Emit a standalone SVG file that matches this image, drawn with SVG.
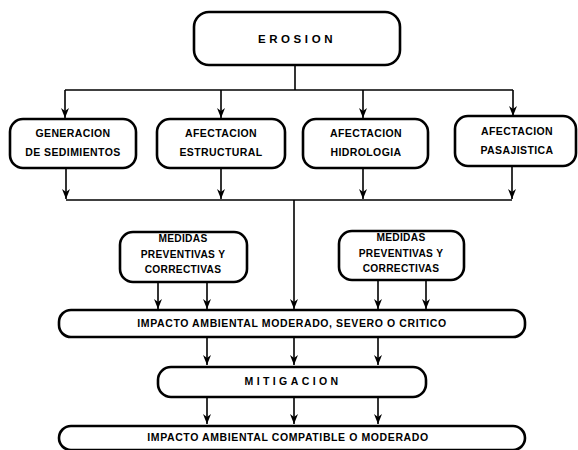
<svg xmlns="http://www.w3.org/2000/svg" width="578" height="450" viewBox="0 0 578 450">
<defs>
<marker id="ah" viewBox="0 0 10 8" refX="10" refY="4" markerWidth="10" markerHeight="8" markerUnits="userSpaceOnUse" orient="auto">
<path d="M0,0 L10,4 L0,8 L3,4 Z" fill="#000"/>
</marker>
<style>
.box{fill:#fff;stroke:#000;stroke-width:2.6}
.ln{fill:none;stroke:#000;stroke-width:1.6}
.ar{fill:none;stroke:#000;stroke-width:1.6;marker-end:url(#ah)}
text{font-family:"Liberation Sans","DejaVu Sans",sans-serif;font-weight:bold;fill:#000;text-anchor:middle;dominant-baseline:central}
.t{font-size:10.5px;letter-spacing:0.4px}
.m{font-size:10.2px;letter-spacing:0.3px}
.s{font-size:10.5px;letter-spacing:0.6px}
</style>
</defs>
<rect width="578" height="450" fill="#fff"/>
<g id="connectors">
<line class="ln" x1="295" y1="65" x2="295" y2="90"/>
<line class="ln" x1="65" y1="90" x2="513" y2="90"/>
<line class="ar" x1="65" y1="90" x2="65" y2="118"/>
<line class="ar" x1="221" y1="90" x2="221" y2="118"/>
<line class="ar" x1="363" y1="90" x2="363" y2="118"/>
<line class="ar" x1="513" y1="90" x2="513" y2="116"/>
<line class="ar" x1="66" y1="168" x2="66" y2="199"/>
<line class="ar" x1="221" y1="168" x2="221" y2="199"/>
<line class="ar" x1="363" y1="168" x2="363" y2="199"/>
<line class="ar" x1="512" y1="166" x2="512" y2="199"/>
<line class="ln" x1="66" y1="200" x2="512" y2="200"/>
<line class="ar" x1="294" y1="200" x2="294" y2="309"/>
<line class="ar" x1="158" y1="282" x2="158" y2="309"/>
<line class="ar" x1="207" y1="282" x2="207" y2="309"/>
<line class="ar" x1="378" y1="280" x2="378" y2="309"/>
<line class="ar" x1="426" y1="280" x2="426" y2="309"/>
<line class="ar" x1="207" y1="337" x2="207" y2="365"/>
<line class="ar" x1="294" y1="337" x2="294" y2="365"/>
<line class="ar" x1="378" y1="337" x2="378" y2="365"/>
<line class="ar" x1="207" y1="397" x2="207" y2="424"/>
<line class="ar" x1="294" y1="397" x2="294" y2="424"/>
<line class="ar" x1="378" y1="397" x2="378" y2="424"/>
</g>
<g id="erosion">
<rect class="box" x="194" y="12" width="206" height="53" rx="15"/>
<text x="297" y="39" style="font-size:11.5px;letter-spacing:3.6px">EROSION</text>
</g>
<g id="generacion">
<rect class="box" x="10" y="119" width="126" height="49" rx="13"/>
<text class="t" x="73" y="133">GENERACION</text>
<text class="t" x="73" y="152">DE SEDIMIENTOS</text>
</g>
<g id="estructural">
<rect class="box" x="157" y="119" width="128" height="49" rx="13"/>
<text class="t" x="221" y="133">AFECTACION</text>
<text class="t" x="221" y="152">ESTRUCTURAL</text>
</g>
<g id="hidrologia">
<rect class="box" x="303" y="119" width="125" height="49" rx="13"/>
<text class="t" x="366" y="133">AFECTACION</text>
<text class="t" x="366" y="152">HIDROLOGIA</text>
</g>
<g id="pasajistica">
<rect class="box" x="455" y="116" width="121" height="50" rx="13"/>
<text class="t" x="517" y="131">AFECTACION</text>
<text class="t" x="517" y="150">PASAJISTICA</text>
</g>
<g id="medidas1">
<rect class="box" x="120" y="232" width="127" height="50" rx="13"/>
<text class="m" x="183" y="238">MEDIDAS</text>
<text class="m" x="183" y="254">PREVENTIVAS Y</text>
<text class="m" x="183" y="269">CORRECTIVAS</text>
</g>
<g id="medidas2">
<rect class="box" x="339" y="231" width="125" height="49" rx="13"/>
<text class="m" x="401" y="237">MEDIDAS</text>
<text class="m" x="401" y="253">PREVENTIVAS Y</text>
<text class="m" x="401" y="268">CORRECTIVAS</text>
</g>
<g id="impacto1">
<rect class="box" x="59" y="310" width="466" height="27" rx="12"/>
<text class="s" x="292" y="323">IMPACTO AMBIENTAL MODERADO, SEVERO O CRITICO</text>
</g>
<g id="mitigacion">
<rect class="box" x="158" y="367" width="268" height="30" rx="13"/>
<text x="293" y="381" style="font-size:10.5px;letter-spacing:3.4px">MITIGACION</text>
</g>
<g id="impacto2">
<rect class="box" x="59" y="426" width="466" height="24" rx="12"/>
<text class="s" x="288" y="437">IMPACTO AMBIENTAL COMPATIBLE O MODERADO</text>
</g>
</svg>
